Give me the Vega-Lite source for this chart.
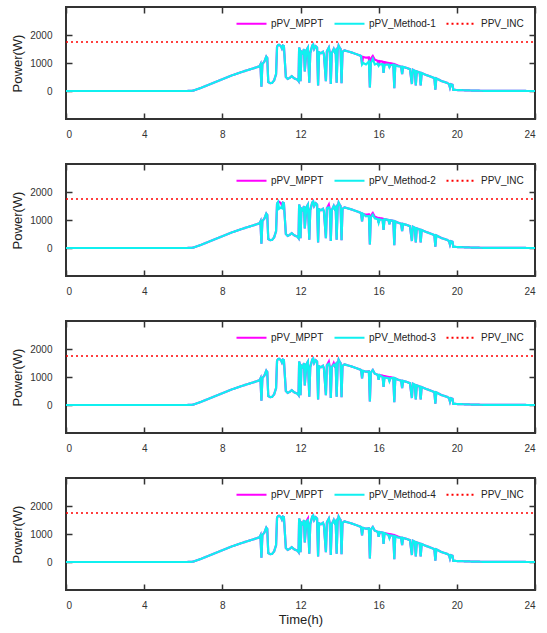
{
  "$schema": "https://vega.github.io/schema/vega-lite/v6.json",
  "padding": {"left": 10, "top": 5, "right": 10, "bottom": 2},
  "spacing": 22,
  "datasets": {
    "inc": [{"t": 0, "inc": 1750}, {"t": 24, "inc": 1750}],
    "pv": [
      {"t":0,"mppt":0,"m1":0,"m2":0,"m3":0,"m4":0},
      {"t":6.2,"mppt":0,"m1":0,"m2":0,"m3":0,"m4":0},
      {"t":6.5,"mppt":10,"m1":10,"m2":10,"m3":10,"m4":10},
      {"t":6.7,"mppt":60,"m1":60,"m2":60,"m3":60,"m4":60},
      {"t":6.9,"mppt":110,"m1":110,"m2":110,"m3":110,"m4":110},
      {"t":7.5,"mppt":280,"m1":280,"m2":280,"m3":280,"m4":280},
      {"t":8,"mppt":420,"m1":420,"m2":420,"m3":420,"m4":420},
      {"t":8.5,"mppt":560,"m1":560,"m2":560,"m3":560,"m4":560},
      {"t":9,"mppt":680,"m1":680,"m2":680,"m3":680,"m4":680},
      {"t":9.5,"mppt":790,"m1":790,"m2":790,"m3":790,"m4":790},
      {"t":9.9,"mppt":880,"m1":880,"m2":880,"m3":880,"m4":880},
      {"t":9.95,"mppt":950,"m1":950,"m2":950,"m3":950,"m4":950},
      {"t":10.0,"mppt":150,"m1":150,"m2":150,"m3":150,"m4":150},
      {"t":10.05,"mppt":960,"m1":960,"m2":960,"m3":960,"m4":960},
      {"t":10.15,"mppt":1050,"m1":1050,"m2":1050,"m3":1050,"m4":1050},
      {"t":10.25,"mppt":1230,"m1":1230,"m2":1230,"m3":1230,"m4":1230},
      {"t":10.3,"mppt":1180,"m1":1180,"m2":1180,"m3":1180,"m4":1180},
      {"t":10.35,"mppt":320,"m1":320,"m2":320,"m3":320,"m4":320},
      {"t":10.45,"mppt":280,"m1":280,"m2":280,"m3":280,"m4":280},
      {"t":10.55,"mppt":290,"m1":290,"m2":290,"m3":290,"m4":290},
      {"t":10.65,"mppt":380,"m1":380,"m2":380,"m3":380,"m4":380},
      {"t":10.75,"mppt":600,"m1":600,"m2":600,"m3":600,"m4":600},
      {"t":10.8,"mppt":1580,"m1":1580,"m2":1580,"m3":1580,"m4":1580},
      {"t":10.85,"mppt":1640,"m1":1640,"m2":1640,"m3":1640,"m4":1640},
      {"t":10.9,"mppt":1650,"m1":1650,"m2":1400,"m3":1650,"m4":1650},
      {"t":11.0,"mppt":1600,"m1":1600,"m2":1450,"m3":1600,"m4":1600},
      {"t":11.05,"mppt":1520,"m1":1520,"m2":1420,"m3":1520,"m4":1520},
      {"t":11.1,"mppt":1620,"m1":1620,"m2":1620,"m3":1620,"m4":1620},
      {"t":11.15,"mppt":1600,"m1":1600,"m2":1600,"m3":1600,"m4":1600},
      {"t":11.25,"mppt":500,"m1":500,"m2":500,"m3":500,"m4":500},
      {"t":11.35,"mppt":430,"m1":430,"m2":430,"m3":430,"m4":430},
      {"t":11.45,"mppt":470,"m1":470,"m2":470,"m3":470,"m4":470},
      {"t":11.55,"mppt":530,"m1":530,"m2":530,"m3":530,"m4":530},
      {"t":11.65,"mppt":470,"m1":470,"m2":470,"m3":470,"m4":470},
      {"t":11.75,"mppt":430,"m1":430,"m2":430,"m3":430,"m4":430},
      {"t":11.85,"mppt":400,"m1":400,"m2":400,"m3":400,"m4":400},
      {"t":11.9,"mppt":350,"m1":350,"m2":350,"m3":350,"m4":350},
      {"t":11.93,"mppt":1550,"m1":1550,"m2":1550,"m3":1550,"m4":1550},
      {"t":11.97,"mppt":1450,"m1":1450,"m2":1450,"m3":1450,"m4":1450},
      {"t":12.0,"mppt":350,"m1":350,"m2":350,"m3":350,"m4":350},
      {"t":12.05,"mppt":1400,"m1":1400,"m2":1400,"m3":1400,"m4":1400},
      {"t":12.12,"mppt":1350,"m1":1350,"m2":1350,"m3":1350,"m4":1350},
      {"t":12.18,"mppt":1500,"m1":1500,"m2":1500,"m3":1500,"m4":1500},
      {"t":12.22,"mppt":700,"m1":700,"m2":700,"m3":700,"m4":700},
      {"t":12.3,"mppt":1450,"m1":1450,"m2":1450,"m3":1450,"m4":1450},
      {"t":12.38,"mppt":1550,"m1":1550,"m2":1550,"m3":1550,"m4":1490},
      {"t":12.45,"mppt":300,"m1":300,"m2":300,"m3":300,"m4":300},
      {"t":12.5,"mppt":1350,"m1":1350,"m2":1350,"m3":1350,"m4":1350},
      {"t":12.6,"mppt":1620,"m1":1620,"m2":1620,"m3":1620,"m4":1620},
      {"t":12.65,"mppt":1660,"m1":1660,"m2":1660,"m3":1660,"m4":1660},
      {"t":12.7,"mppt":1500,"m1":1500,"m2":1500,"m3":1500,"m4":1500},
      {"t":12.78,"mppt":1600,"m1":1600,"m2":1600,"m3":1600,"m4":1600},
      {"t":12.85,"mppt":1550,"m1":1550,"m2":1550,"m3":1550,"m4":1550},
      {"t":12.9,"mppt":200,"m1":200,"m2":200,"m3":200,"m4":200},
      {"t":12.95,"mppt":1380,"m1":1380,"m2":1380,"m3":1380,"m4":1380},
      {"t":13.05,"mppt":1350,"m1":1350,"m2":1350,"m3":1350,"m4":1350},
      {"t":13.15,"mppt":1400,"m1":1400,"m2":1400,"m3":1400,"m4":1400},
      {"t":13.2,"mppt":1300,"m1":1300,"m2":1300,"m3":1300,"m4":1300},
      {"t":13.3,"mppt":350,"m1":350,"m2":350,"m3":350,"m4":350},
      {"t":13.35,"mppt":1420,"m1":1420,"m2":1420,"m3":1420,"m4":1420},
      {"t":13.45,"mppt":1550,"m1":1550,"m2":1450,"m3":1470,"m4":1550},
      {"t":13.5,"mppt":1350,"m1":1350,"m2":1350,"m3":1350,"m4":1350},
      {"t":13.55,"mppt":250,"m1":250,"m2":250,"m3":250,"m4":250},
      {"t":13.6,"mppt":1350,"m1":1350,"m2":1350,"m3":1350,"m4":1350},
      {"t":13.7,"mppt":1500,"m1":1500,"m2":1500,"m3":1440,"m4":1500},
      {"t":13.75,"mppt":1400,"m1":1400,"m2":1400,"m3":1400,"m4":1400},
      {"t":13.8,"mppt":1450,"m1":1450,"m2":1450,"m3":1450,"m4":1450},
      {"t":13.85,"mppt":300,"m1":300,"m2":300,"m3":300,"m4":300},
      {"t":13.9,"mppt":1450,"m1":1450,"m2":1450,"m3":1450,"m4":1450},
      {"t":13.95,"mppt":1620,"m1":1620,"m2":1620,"m3":1620,"m4":1620},
      {"t":14.0,"mppt":1550,"m1":1550,"m2":1550,"m3":1550,"m4":1550},
      {"t":14.05,"mppt":1500,"m1":1500,"m2":1500,"m3":1500,"m4":1500},
      {"t":14.1,"mppt":280,"m1":280,"m2":280,"m3":280,"m4":280},
      {"t":14.15,"mppt":1400,"m1":1400,"m2":1400,"m3":1400,"m4":1400},
      {"t":14.25,"mppt":1450,"m1":1450,"m2":1450,"m3":1450,"m4":1450},
      {"t":14.4,"mppt":1420,"m1":1420,"m2":1420,"m3":1420,"m4":1420},
      {"t":14.6,"mppt":1380,"m1":1380,"m2":1380,"m3":1380,"m4":1380},
      {"t":14.8,"mppt":1330,"m1":1330,"m2":1330,"m3":1330,"m4":1330},
      {"t":15.0,"mppt":1280,"m1":1280,"m2":1280,"m3":1280,"m4":1280},
      {"t":15.1,"mppt":1250,"m1":1250,"m2":1250,"m3":1250,"m4":1250},
      {"t":15.15,"mppt":950,"m1":950,"m2":950,"m3":950,"m4":950},
      {"t":15.2,"mppt":1220,"m1":1000,"m2":1220,"m3":1220,"m4":1220},
      {"t":15.35,"mppt":1190,"m1":950,"m2":1130,"m3":1190,"m4":1190},
      {"t":15.5,"mppt":1200,"m1":1050,"m2":1140,"m3":1200,"m4":1200},
      {"t":15.55,"mppt":130,"m1":130,"m2":130,"m3":130,"m4":130},
      {"t":15.6,"mppt":1160,"m1":1000,"m2":1100,"m3":1160,"m4":1160},
      {"t":15.7,"mppt":1250,"m1":1150,"m2":1190,"m3":1250,"m4":1250},
      {"t":15.8,"mppt":1120,"m1":950,"m2":1060,"m3":1120,"m4":1120},
      {"t":15.95,"mppt":1080,"m1":980,"m2":1030,"m3":1080,"m4":1080},
      {"t":16.0,"mppt":900,"m1":900,"m2":900,"m3":900,"m4":900},
      {"t":16.05,"mppt":1070,"m1":950,"m2":1020,"m3":1070,"m4":1070},
      {"t":16.2,"mppt":1050,"m1":960,"m2":1000,"m3":1000,"m4":1050},
      {"t":16.25,"mppt":650,"m1":650,"m2":650,"m3":650,"m4":650},
      {"t":16.3,"mppt":1030,"m1":930,"m2":1030,"m3":980,"m4":1030},
      {"t":16.5,"mppt":1000,"m1":950,"m2":1000,"m3":960,"m4":960},
      {"t":16.55,"mppt":850,"m1":850,"m2":850,"m3":850,"m4":850},
      {"t":16.6,"mppt":990,"m1":920,"m2":990,"m3":950,"m4":950},
      {"t":16.75,"mppt":970,"m1":940,"m2":970,"m3":970,"m4":930},
      {"t":16.8,"mppt":100,"m1":100,"m2":100,"m3":100,"m4":100},
      {"t":16.85,"mppt":950,"m1":920,"m2":950,"m3":950,"m4":920},
      {"t":17.0,"mppt":900,"m1":880,"m2":900,"m3":900,"m4":870},
      {"t":17.15,"mppt":870,"m1":870,"m2":870,"m3":870,"m4":870},
      {"t":17.2,"mppt":600,"m1":600,"m2":600,"m3":600,"m4":600},
      {"t":17.25,"mppt":860,"m1":860,"m2":860,"m3":860,"m4":860},
      {"t":17.45,"mppt":820,"m1":820,"m2":820,"m3":820,"m4":820},
      {"t":17.6,"mppt":780,"m1":780,"m2":780,"m3":780,"m4":780},
      {"t":17.7,"mppt":250,"m1":250,"m2":250,"m3":250,"m4":250},
      {"t":17.75,"mppt":760,"m1":760,"m2":760,"m3":760,"m4":760},
      {"t":17.85,"mppt":720,"m1":720,"m2":720,"m3":720,"m4":720},
      {"t":17.9,"mppt":200,"m1":200,"m2":200,"m3":200,"m4":200},
      {"t":17.95,"mppt":700,"m1":700,"m2":700,"m3":700,"m4":700},
      {"t":18.1,"mppt":660,"m1":660,"m2":660,"m3":660,"m4":660},
      {"t":18.15,"mppt":200,"m1":200,"m2":200,"m3":200,"m4":200},
      {"t":18.2,"mppt":640,"m1":640,"m2":640,"m3":640,"m4":640},
      {"t":18.4,"mppt":580,"m1":580,"m2":580,"m3":580,"m4":580},
      {"t":18.6,"mppt":530,"m1":530,"m2":530,"m3":530,"m4":530},
      {"t":18.85,"mppt":460,"m1":460,"m2":460,"m3":460,"m4":460},
      {"t":18.9,"mppt":50,"m1":50,"m2":50,"m3":50,"m4":50},
      {"t":18.95,"mppt":450,"m1":450,"m2":450,"m3":450,"m4":450},
      {"t":19.2,"mppt":360,"m1":360,"m2":360,"m3":360,"m4":360},
      {"t":19.5,"mppt":290,"m1":290,"m2":290,"m3":290,"m4":290},
      {"t":19.6,"mppt":250,"m1":250,"m2":250,"m3":250,"m4":250},
      {"t":19.65,"mppt":120,"m1":120,"m2":120,"m3":120,"m4":120},
      {"t":19.7,"mppt":240,"m1":240,"m2":240,"m3":240,"m4":240},
      {"t":19.78,"mppt":220,"m1":220,"m2":220,"m3":220,"m4":220},
      {"t":19.82,"mppt":40,"m1":40,"m2":40,"m3":40,"m4":40},
      {"t":20.2,"mppt":30,"m1":30,"m2":30,"m3":30,"m4":30},
      {"t":20.8,"mppt":15,"m1":15,"m2":15,"m3":15,"m4":15},
      {"t":21.5,"mppt":5,"m1":5,"m2":5,"m3":5,"m4":5},
      {"t":24,"mppt":0,"m1":0,"m2":0,"m3":0,"m4":0}
    ]
  },
  "config": {
    "font": "Liberation Sans",
    "view": {"stroke": "#333", "strokeWidth": 2},
    "axis": {"grid": false, "domain": false, "tickColor": "#333", "tickWidth": 1.5, "tickSize": -6, "labelFontSize": 10, "labelColor": "#333", "titleFontSize": 13, "titleFont": "Liberation Sans", "titleFontWeight": "normal", "titleColor": "#222"},
    "axisX": {"labelPadding": 16, "titlePadding": 3},
    "axisY": {"labelPadding": 20, "titlePadding": 5, "format": "d"},
    "legend": {"orient": "none", "legendX": 169, "legendY": 0, "direction": "horizontal", "title": null, "padding": 0, "symbolType": "stroke", "symbolSize": 900, "symbolStrokeWidth": 2.2, "labelFontSize": 10, "labelColor": "#222", "labelOffset": 3, "columnPadding": 6}
  },
  "resolve": {"scale": {"color": "independent", "strokeDash": "independent"}},
  "vconcat": [
    {
      "width": 469, "height": 112,
      "layer": [
        {"layer": [
          {"data": {"name": "pv"}, "mark": {"type": "line", "strokeWidth": 2.2},
           "encoding": {
             "x": {"field": "t", "type": "quantitative", "scale": {"domain": [0, 24]}, "axis": {"values": [0,4,8,12,16,20,24], "title": null}},
             "y": {"field": "mppt", "type": "quantitative", "scale": {"domain": [-500, 2500]}, "axis": {"values": [0,1000,2000], "title": "Power(W)"}},
             "color": {"datum": "mppt", "scale": {"domain": ["mppt","m1","inc"], "range": ["#ff00ff","#10f0f0","#ff0000"]}, "legend": {"labelExpr": "datum.label == 'mppt' ? 'pPV_MPPT' : datum.label == 'inc' ? 'PPV_INC' : 'pPV_Method-1'"}},
             "strokeDash": {"datum": "mppt", "scale": {"domain": ["mppt","m1","inc"], "range": [[1,0],[1,0],[2,3]]}, "legend": {"labelExpr": "datum.label == 'mppt' ? 'pPV_MPPT' : datum.label == 'inc' ? 'PPV_INC' : 'pPV_Method-1'"}}
           }},
          {"data": {"name": "pv"}, "mark": {"type": "line", "strokeWidth": 2.2},
           "encoding": {
             "x": {"field": "t", "type": "quantitative"},
             "y": {"field": "m1", "type": "quantitative", "axis": {"title": "Power(W)"}},
             "color": {"datum": "m1"},
             "strokeDash": {"datum": "m1"}
           }}
        ]},
        {"data": {"name": "inc"}, "mark": {"type": "line", "strokeWidth": 1.5},
         "encoding": {
           "x": {"field": "t", "type": "quantitative", "axis": {"orient": "top", "values": [0,4,8,12,16,20,24], "labels": false, "title": null}},
           "y": {"field": "inc", "type": "quantitative", "axis": {"orient": "right", "values": [0,1000,2000], "labels": false, "title": null}},
           "color": {"datum": "inc"},
           "strokeDash": {"datum": "inc"}
         }}
      ],
      "resolve": {"axis": {"x": "independent", "y": "independent"}}
    },
    {
      "width": 469, "height": 112,
      "layer": [
        {"layer": [
          {"data": {"name": "pv"}, "mark": {"type": "line", "strokeWidth": 2.2},
           "encoding": {
             "x": {"field": "t", "type": "quantitative", "scale": {"domain": [0, 24]}, "axis": {"values": [0,4,8,12,16,20,24], "title": null}},
             "y": {"field": "mppt", "type": "quantitative", "scale": {"domain": [-500, 2500]}, "axis": {"values": [0,1000,2000], "title": "Power(W)"}},
             "color": {"datum": "mppt", "scale": {"domain": ["mppt","m2","inc"], "range": ["#ff00ff","#10f0f0","#ff0000"]}, "legend": {"labelExpr": "datum.label == 'mppt' ? 'pPV_MPPT' : datum.label == 'inc' ? 'PPV_INC' : 'pPV_Method-2'"}},
             "strokeDash": {"datum": "mppt", "scale": {"domain": ["mppt","m2","inc"], "range": [[1,0],[1,0],[2,3]]}, "legend": {"labelExpr": "datum.label == 'mppt' ? 'pPV_MPPT' : datum.label == 'inc' ? 'PPV_INC' : 'pPV_Method-2'"}}
           }},
          {"data": {"name": "pv"}, "mark": {"type": "line", "strokeWidth": 2.2},
           "encoding": {
             "x": {"field": "t", "type": "quantitative"},
             "y": {"field": "m2", "type": "quantitative", "axis": {"title": "Power(W)"}},
             "color": {"datum": "m2"},
             "strokeDash": {"datum": "m2"}
           }}
        ]},
        {"data": {"name": "inc"}, "mark": {"type": "line", "strokeWidth": 1.5},
         "encoding": {
           "x": {"field": "t", "type": "quantitative", "axis": {"orient": "top", "values": [0,4,8,12,16,20,24], "labels": false, "title": null}},
           "y": {"field": "inc", "type": "quantitative", "axis": {"orient": "right", "values": [0,1000,2000], "labels": false, "title": null}},
           "color": {"datum": "inc"},
           "strokeDash": {"datum": "inc"}
         }}
      ],
      "resolve": {"axis": {"x": "independent", "y": "independent"}}
    },
    {
      "width": 469, "height": 112,
      "layer": [
        {"layer": [
          {"data": {"name": "pv"}, "mark": {"type": "line", "strokeWidth": 2.2},
           "encoding": {
             "x": {"field": "t", "type": "quantitative", "scale": {"domain": [0, 24]}, "axis": {"values": [0,4,8,12,16,20,24], "title": null}},
             "y": {"field": "mppt", "type": "quantitative", "scale": {"domain": [-500, 2500]}, "axis": {"values": [0,1000,2000], "title": "Power(W)"}},
             "color": {"datum": "mppt", "scale": {"domain": ["mppt","m3","inc"], "range": ["#ff00ff","#10f0f0","#ff0000"]}, "legend": {"labelExpr": "datum.label == 'mppt' ? 'pPV_MPPT' : datum.label == 'inc' ? 'PPV_INC' : 'pPV_Method-3'"}},
             "strokeDash": {"datum": "mppt", "scale": {"domain": ["mppt","m3","inc"], "range": [[1,0],[1,0],[2,3]]}, "legend": {"labelExpr": "datum.label == 'mppt' ? 'pPV_MPPT' : datum.label == 'inc' ? 'PPV_INC' : 'pPV_Method-3'"}}
           }},
          {"data": {"name": "pv"}, "mark": {"type": "line", "strokeWidth": 2.2},
           "encoding": {
             "x": {"field": "t", "type": "quantitative"},
             "y": {"field": "m3", "type": "quantitative", "axis": {"title": "Power(W)"}},
             "color": {"datum": "m3"},
             "strokeDash": {"datum": "m3"}
           }}
        ]},
        {"data": {"name": "inc"}, "mark": {"type": "line", "strokeWidth": 1.5},
         "encoding": {
           "x": {"field": "t", "type": "quantitative", "axis": {"orient": "top", "values": [0,4,8,12,16,20,24], "labels": false, "title": null}},
           "y": {"field": "inc", "type": "quantitative", "axis": {"orient": "right", "values": [0,1000,2000], "labels": false, "title": null}},
           "color": {"datum": "inc"},
           "strokeDash": {"datum": "inc"}
         }}
      ],
      "resolve": {"axis": {"x": "independent", "y": "independent"}}
    },
    {
      "width": 469, "height": 112,
      "layer": [
        {"layer": [
          {"data": {"name": "pv"}, "mark": {"type": "line", "strokeWidth": 2.2},
           "encoding": {
             "x": {"field": "t", "type": "quantitative", "scale": {"domain": [0, 24]}, "axis": {"values": [0,4,8,12,16,20,24], "title": "Time(h)"}},
             "y": {"field": "mppt", "type": "quantitative", "scale": {"domain": [-500, 2500]}, "axis": {"values": [0,1000,2000], "title": "Power(W)"}},
             "color": {"datum": "mppt", "scale": {"domain": ["mppt","m4","inc"], "range": ["#ff00ff","#10f0f0","#ff0000"]}, "legend": {"labelExpr": "datum.label == 'mppt' ? 'pPV_MPPT' : datum.label == 'inc' ? 'PPV_INC' : 'pPV_Method-4'"}},
             "strokeDash": {"datum": "mppt", "scale": {"domain": ["mppt","m4","inc"], "range": [[1,0],[1,0],[2,3]]}, "legend": {"labelExpr": "datum.label == 'mppt' ? 'pPV_MPPT' : datum.label == 'inc' ? 'PPV_INC' : 'pPV_Method-4'"}}
           }},
          {"data": {"name": "pv"}, "mark": {"type": "line", "strokeWidth": 2.2},
           "encoding": {
             "x": {"field": "t", "type": "quantitative", "axis": {"title": "Time(h)"}},
             "y": {"field": "m4", "type": "quantitative", "axis": {"title": "Power(W)"}},
             "color": {"datum": "m4"},
             "strokeDash": {"datum": "m4"}
           }}
        ]},
        {"data": {"name": "inc"}, "mark": {"type": "line", "strokeWidth": 1.5},
         "encoding": {
           "x": {"field": "t", "type": "quantitative", "axis": {"orient": "top", "values": [0,4,8,12,16,20,24], "labels": false, "title": null}},
           "y": {"field": "inc", "type": "quantitative", "axis": {"orient": "right", "values": [0,1000,2000], "labels": false, "title": null}},
           "color": {"datum": "inc"},
           "strokeDash": {"datum": "inc"}
         }}
      ],
      "resolve": {"axis": {"x": "independent", "y": "independent"}}
    }
  ]
}
